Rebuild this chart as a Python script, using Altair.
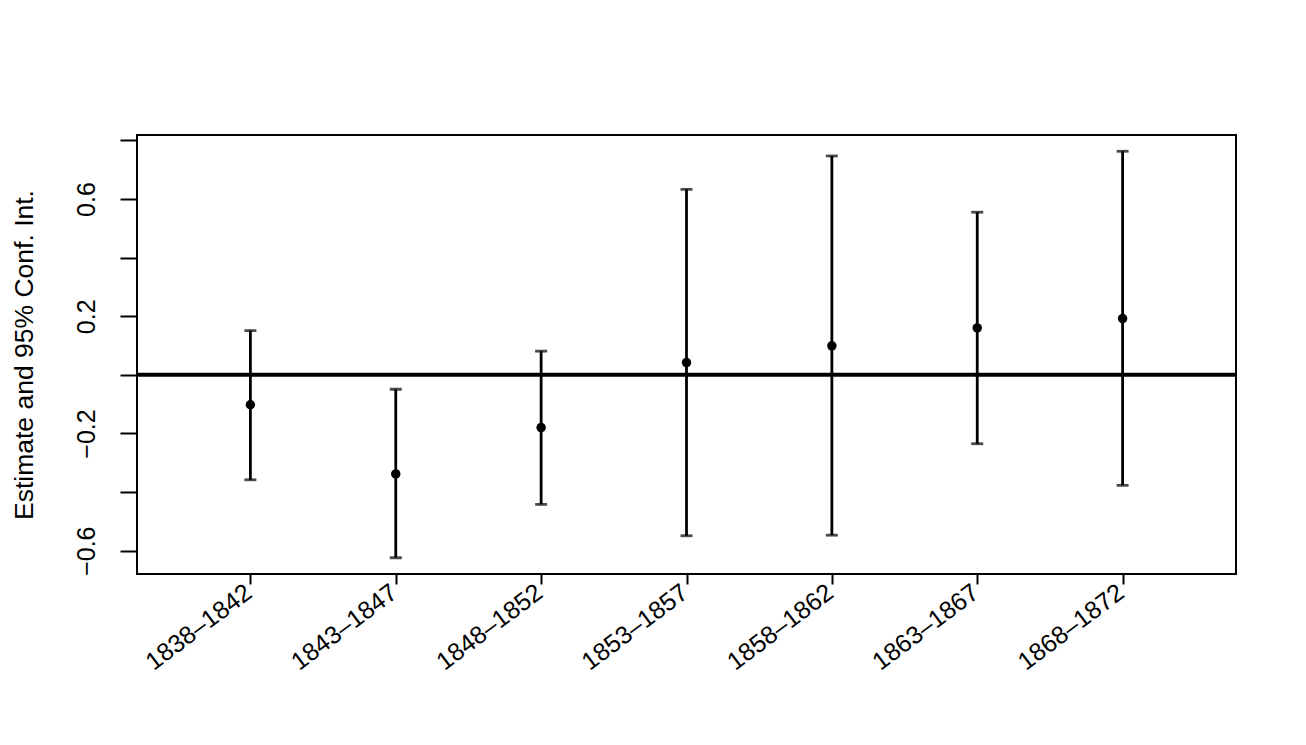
import altair as alt
import pandas as pd

periods = ["1838–1842", "1843–1847", "1848–1852", "1853–1857",
           "1858–1862", "1863–1867", "1868–1872"]
estimate = [-0.102, -0.338, -0.180, 0.042, 0.099, 0.160, 0.192]
ci_low = [-0.358, -0.624, -0.442, -0.549, -0.547, -0.235, -0.377]
ci_high = [0.151, -0.049, 0.081, 0.633, 0.747, 0.555, 0.763]
y_ticks = [-0.6, -0.4, -0.2, 0.0, 0.2, 0.4, 0.6, 0.8]

df = pd.DataFrame({"period": periods, "est": estimate, "lo": ci_low, "hi": ci_high})

FONT = "Liberation Sans"

x_enc = alt.X(
    "period:N",
    sort=periods,
    scale=alt.Scale(type="point", padding=0.78),
    axis=alt.Axis(
        title=None,
        domain=False,
        grid=False,
        ticks=True,
        tickSize=10,
        tickWidth=2,
        tickColor="black",
        labelAngle=323,
        labelAlign="right",
        labelBaseline="middle",
        labelPadding=5,
        labelOffset=-2,
        labelFont=FONT,
        labelFontSize=25,
        labelColor="black",
    ),
)

y_scale = alt.Scale(domain=[-0.6795, 0.8185], nice=False, zero=False)
y_axis = alt.Axis(
    title="Estimate and 95% Conf. Int.",
    titleFont=FONT,
    titleFontSize=26.5,
    titleFontWeight="normal",
    titleColor="black",
    titleX=-105,
    titleBaseline="alphabetic",
    values=y_ticks,
    labelExpr="abs(round(datum.value*10)) % 4 == 2 ? format(datum.value, '.1f') : ''",
    domain=False,
    grid=False,
    tickSize=17,
    tickWidth=2,
    tickColor="black",
    labelAngle=270,
    labelAlign="center",
    labelBaseline="alphabetic",
    labelPadding=26,
    labelFont=FONT,
    labelFontSize=25,
    labelColor="black",
)

base = alt.Chart(df)

bars = base.mark_rule(color="black", strokeWidth=2.8).encode(
    x=x_enc,
    y=alt.Y("lo:Q", scale=y_scale, axis=y_axis),
    y2="hi:Q",
)
cap_hi = base.mark_tick(color="black", orient="horizontal", size=12, thickness=2.8).encode(
    x=alt.X("period:N", sort=periods), y=alt.Y("hi:Q")
)
cap_lo = base.mark_tick(color="black", orient="horizontal", size=12, thickness=2.8).encode(
    x=alt.X("period:N", sort=periods), y=alt.Y("lo:Q")
)
points = base.mark_circle(color="black", size=90, opacity=1).encode(
    x=alt.X("period:N", sort=periods), y=alt.Y("est:Q")
)
zero = alt.Chart(pd.DataFrame({"z": [0.0]})).mark_rule(color="black", strokeWidth=4).encode(
    y=alt.Y("z:Q")
)

chart = (
    alt.layer(bars, cap_hi, cap_lo, points, zero)
    .properties(
        width=1099,
        height=439,
        autosize=alt.AutoSizeParams(type="none"),
        padding={"left": 129, "top": 127, "right": 54, "bottom": 155},
        background="white",
    )
    .configure_view(stroke="black", strokeWidth=2)
)

chart.save("out.html", embed_options={"renderer": "svg", "actions": False})
